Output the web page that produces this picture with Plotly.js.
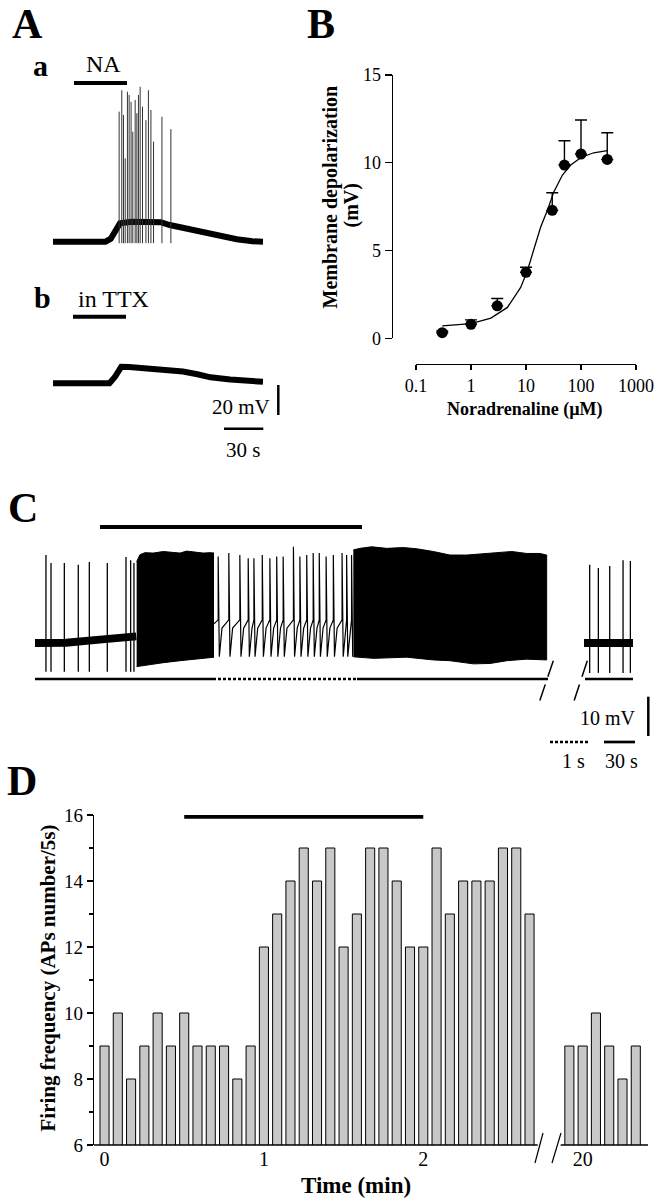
<!DOCTYPE html>
<html>
<head>
<meta charset="utf-8">
<script src="https://cdn.plot.ly/plotly-3.0.1.min.js"></script>
<style>
  html, body { margin: 0; padding: 0; background: #fff; }
  #plot { width: 658px; height: 1200px; }
</style>
</head>
<body>
<div id="plot"></div>
<script>
// ---- Panel A: NA-evoked depolarisation (time in s, potential in mV from rest)
const aTime = [0, 40, 44, 48, 51, 60, 72, 82, 89, 98, 112, 125, 140, 152, 160];
const aVoltNA = [0, 0, 2, 9, 12.3, 13.3, 13.5, 13, 11.1, 9.5, 6.2, 3.8, 1.6, 0.3, 0];
const aSpikeTimes = [50.4, 52.4, 53.7, 55, 56.7, 58, 59.5, 60.8, 62.6, 63.9, 65.1, 66.4, 68.2, 70.8, 72.7, 74.6, 76.6, 83, 89.8];
const aSpikePeaks = [86.7, 101, 84.5, 55.6, 100, 97.8, 93.3, 73.3, 94.5, 85.6, 97.8, 103.3, 90, 81, 101, 87.8, 66.7, 83.3, 75];
const aSpikeTrough = -1;
const bTime = [0, 43, 47, 52, 58, 70, 85, 99, 110, 120, 135, 150, 160];
const bVoltTTX = [0, 0, 4, 11, 10.8, 10, 9, 7.8, 6, 4, 2.5, 1.5, 1];

// ---- Panel B: concentration-response
const naConc = [0.3, 1, 3, 10, 30, 50, 100, 300];
const depolMean = [0.32, 0.8, 1.85, 3.76, 7.29, 9.87, 10.5, 10.19];
const depolSem = [0.1, 0.25, 0.42, 0.29, 1.0, 1.38, 1.94, 1.52];
const fitConc = [0.3, 1, 2.3, 4.6, 8, 10.6, 14, 18.5, 24.5, 32, 46, 65, 100, 170, 300];
const fitDepol = [0.71, 0.84, 1.15, 1.76, 2.9, 3.85, 5.1, 6.34, 7.29, 8.34, 9.3, 9.87, 10.3, 10.57, 10.69];

// ---- Panel C: firing record (slow segments in s, expanded window in s)
const cRestTime = [0, 30, 60, 80, 90, 98];
const cRestVolt = [0.5, 0.6, 1.3, 2, 2.1, 2.2];
const cSpikeTimes = [10.6, 15.5, 28.4, 41.9, 52.6, 70, 88.1, 92.6, 95.8];
const cSpikePeaks = [22.9, 20.9, 20.9, 20.4, 21.1, 20.9, 22.4, 21.6, 20.9];
const cSpikeTrough = -6.8;
const burst1Time = [98.4, 101.6, 106.5, 114.5, 124.2, 130.7, 140.4, 146.8, 156.5, 163, 169.4, 173.6];
const burst1Top = [21.2, 23, 23.5, 23.4, 23.8, 23.6, 23.4, 23.9, 23.6, 23.4, 23.5, 23.4];
const burst1LowTime = [98.4, 106.5, 124.2, 140.4, 156.5, 173.6];
const burst1Low = [-5.5, -5.1, -4.5, -4, -3.5, -3.1];
const fastSpikeTimes = [0.11, 0.39, 0.68, 0.90, 1.05, 1.27, 1.47, 1.65, 1.82, 2.09, 2.26, 2.44, 2.61, 2.77, 2.95, 3.14, 3.37, 3.49, 3.62];
const fastSpikePeaks = [22.5, 23.4, 22.9, 22.1, 22.1, 22.9, 22.1, 22.5, 22.5, 25, 22.5, 22.9, 23.4, 23.4, 22.5, 22.9, 23.4, 22.9, 22.9];
const fastAhp = -3;
const fastKnee = 4.3;
const fastThreshold = 6.4;
const burst2Time = [0.3, 6.8, 18.1, 32.6, 48.7, 61.7, 77.8, 93.9, 110, 126.1, 142.3, 153.6, 168.2, 181, 187.5];
const burst2Top = [24.2, 24.6, 25, 24.6, 24.8, 24.5, 23.8, 22.9, 22.9, 23.2, 23.5, 23.8, 23.3, 23.3, 22.9];
const burst2LowTime = [0.3, 19.7, 52, 77.8, 93.9, 116.6, 132.8, 149, 168.2, 187.5];
const burst2Low = [-3, -3.4, -3.1, -3.8, -4, -4.8, -4.7, -4, -3.6, -3.8];
const washTime = [0, 20, 47.4];
const washVolt = [0.5, 0.7, 0.5];
const washSpikeTimes = [5.5, 13.9, 24.9, 37.8, 44.9];
const washSpikePeaks = [20.4, 19.6, 20.1, 21.6, 21.4];
const washTrough = -7.1;

// ---- Panel D: firing frequency per 5 s bin
const binStartSec = [0, 5, 10, 15, 20, 25, 30, 35, 40, 45, 50, 55, 60, 65, 70, 75, 80, 85, 90, 95, 100,
  105, 110, 115, 120, 125, 130, 135, 140, 145, 150, 155, 160];
const apCounts = [9, 10, 8, 9, 10, 9, 10, 9, 9, 9, 8, 9, 12, 13, 14, 15, 14, 15, 12, 13, 15,
  15, 14, 12, 12, 15, 13, 14, 14, 14, 15, 15, 13];
const washBinSec = [1195, 1200, 1205, 1210, 1215, 1220];
const washCounts = [9, 9, 10, 9, 8, 9];
const naStartMin = 0.5;
const naEndMin = 2.0;
const timeTickLabels = ['0', '1', '2', '20'];

// ---------------------------------------------------------------------------
const W = 658, H = 1200;
const FONT = 'Liberation Serif, Times New Roman, serif';
const px = x => x / W;
const py = y => 1 - y / H;
const domX = (a, b) => [px(a), px(b)];
const domY = (top, bottom) => [py(bottom), py(top)];

// break in the time axis of D: 20 min is drawn at position 3
const BREAK_SHIFT = 17;
const axisMin = sec => {
  const m = sec / 60;
  return m > 10 ? m - BREAK_SHIFT : m;
};

function lineTrace(x, y, xa, ya, width, color) {
  return {
    x, y, xaxis: xa, yaxis: ya, type: 'scatter', mode: 'lines',
    line: { color: color || '#000', width }, hoverinfo: 'skip'
  };
}

// vertical spike strokes from trough to peak
function spikeTrace(times, peaks, trough, xa, ya, width, color) {
  const x = [], y = [];
  times.forEach((t, i) => {
    x.push(t, t, null);
    y.push(trough, peaks[i], null);
  });
  return lineTrace(x, y, xa, ya, width, color);
}

// solid black region of high-frequency firing
function burstTrace(topT, top, lowT, low, xa, ya) {
  return {
    x: topT.concat(lowT.slice().reverse()),
    y: top.concat(low.slice().reverse()),
    xaxis: xa, yaxis: ya, type: 'scatter', mode: 'lines',
    fill: 'toself', fillcolor: '#000',
    line: { color: '#000', width: 1 }, hoverinfo: 'skip'
  };
}

// expanded window: spike, AHP, then recovery ramp to threshold
function fastTrainTrace(xa, ya) {
  const x = [0], y = [fastThreshold - 1];
  fastSpikeTimes.forEach((t, i) => {
    x.push(t, t, t + 0.03);
    y.push(fastThreshold, fastSpikePeaks[i], fastAhp);
    const next = fastSpikeTimes[i + 1];
    if (next === undefined) return;
    if (next - t > 0.14) {
      x.push(t + 0.1);
      y.push(fastKnee);
    }
  });
  return lineTrace(x, y, xa, ya, 1.2);
}

function label(text, x, y, size, opts = {}) {
  return Object.assign({
    text, x: px(x), y: py(y), xref: 'paper', yref: 'paper',
    showarrow: false, xanchor: 'center', yanchor: 'middle',
    font: { family: FONT, size, color: '#000' }
  }, opts);
}

function paperLine(x0, y0, x1, y1, width, dash) {
  return {
    type: 'line', xref: 'paper', yref: 'paper',
    x0: px(x0), y0: py(y0), x1: px(x1), y1: py(y1),
    line: { color: '#000', width, dash: dash || 'solid' }
  };
}

const hidden = (domain, range) => ({
  domain, range, visible: false, fixedrange: true
});

// ---------------------------------------------------------------------------
const traces = [
  // A a / A b
  lineTrace(aTime, aVoltNA, 'x2', 'y2', 6),
  spikeTrace(aSpikeTimes, aSpikePeaks, aSpikeTrough, 'x2', 'y2', 1, '#333'),
  lineTrace(bTime, bVoltTTX, 'x3', 'y3', 6),

  // B
  lineTrace(fitConc, fitDepol, 'x', 'y', 1.3),
  {
    x: naConc, y: depolMean, type: 'scatter', mode: 'markers',
    marker: { color: '#000', size: 11 },
    error_y: {
      type: 'data', symmetric: false, array: depolSem,
      arrayminus: naConc.map(() => 0), color: '#000', thickness: 1.4, width: 6
    },
    cliponaxis: false, hoverinfo: 'skip'
  },

  // C
  lineTrace(cRestTime, cRestVolt, 'x5', 'y5', 8),
  spikeTrace(cSpikeTimes, cSpikePeaks, cSpikeTrough, 'x5', 'y5', 1.3),
  burstTrace(burst1Time, burst1Top, burst1LowTime, burst1Low, 'x5', 'y5'),
  fastTrainTrace('x6', 'y5'),
  burstTrace(burst2Time, burst2Top, burst2LowTime, burst2Low, 'x7', 'y5'),
  lineTrace(washTime, washVolt, 'x8', 'y5', 8),
  spikeTrace(washSpikeTimes, washSpikePeaks, washTrough, 'x8', 'y5', 1.3),

  // D
  {
    x: binStartSec.map(axisMin).concat(washBinSec.map(axisMin)),
    y: apCounts.concat(washCounts),
    type: 'bar', xaxis: 'x4', yaxis: 'y4', width: 0.057,
    marker: { color: '#c8c8c8', line: { color: '#000', width: 1 } },
    hoverinfo: 'skip'
  },
  lineTrace([naStartMin, naEndMin], [15.95, 15.95], 'x4', 'y4', 4)
];

const axisStyle = {
  showline: true, linecolor: '#000', linewidth: 1.3,
  showgrid: false, zeroline: false, fixedrange: true,
  ticks: 'outside', tickcolor: '#000', tickwidth: 1.3,
  tickfont: { family: FONT, size: 18, color: '#000' }
};

const layout = {
  width: W, height: H,
  margin: { l: 0, r: 0, t: 0, b: 0 },
  paper_bgcolor: '#fff', plot_bgcolor: 'rgba(0,0,0,0)',
  showlegend: false,
  bargap: 0,

  // B
  xaxis: Object.assign({}, axisStyle, {
    type: 'log', domain: domX(416, 636), range: [-1, 3],
    anchor: 'free', position: py(364), ticklen: 5,
    tickvals: [0.1, 1, 10, 100, 1000], ticktext: ['0.1', '1', '10', '100', '1000']
  }),
  yaxis: Object.assign({}, axisStyle, {
    domain: domY(75, 338.3), range: [0, 15],
    anchor: 'free', position: px(391.7), ticklen: 7,
    tickvals: [0, 5, 10, 15]
  }),

  // A
  xaxis2: Object.assign(hidden(domX(53, 263), [0, 160]), { anchor: 'y2' }),
  yaxis2: Object.assign(hidden(domY(80, 250), [-5.53, 107.8]), { anchor: 'x2' }),
  xaxis3: Object.assign(hidden(domX(53, 263), [0, 160]), { anchor: 'y3' }),
  yaxis3: Object.assign(hidden(domY(330, 400), [-11.13, 35.53]), { anchor: 'x3' }),

  // D
  xaxis4: Object.assign({}, axisStyle, {
    domain: domX(94, 648), range: [-0.066, 3.41], anchor: 'y4',
    showline: false, ticks: '',
    tickvals: [0, 1, 2, 3], ticktext: timeTickLabels,
    tickfont: { family: FONT, size: 20, color: '#000' }
  }),
  yaxis4: Object.assign({}, axisStyle, {
    domain: domY(815, 1145), range: [6, 16], anchor: 'x4',
    ticklen: 6, tickvals: [6, 8, 10, 12, 14, 16],
    minor: { tickvals: [7, 9, 11, 13, 15], ticks: 'outside', ticklen: 4, tickcolor: '#000', tickwidth: 1.2 },
    tickfont: { family: FONT, size: 19, color: '#000' }
  }),

  // C
  xaxis5: Object.assign(hidden(domX(35, 214), [0, 173.3]), { anchor: 'y5' }),
  xaxis6: Object.assign(hidden(domX(214, 353), [0, 3.658]), { anchor: 'y5' }),
  xaxis7: Object.assign(hidden(domX(353, 548), [0, 188.8]), { anchor: 'y5' }),
  xaxis8: Object.assign(hidden(domX(584, 634), [0, 48.4]), { anchor: 'y5' }),
  yaxis5: Object.assign(hidden(domY(535, 700), [-14, 28]), { anchor: 'x5' }),

  shapes: [
    // A: application bars and scale bars
    paperLine(74, 83, 127, 83, 4),
    paperLine(73, 316.7, 126, 316.7, 4),
    paperLine(278.3, 385, 278.3, 415, 2.5),
    paperLine(224, 428.7, 263.3, 428.7, 2.5),
    // C: application bar, time-base underlines, breaks, scale bars
    paperLine(100, 527, 362, 527, 4),
    paperLine(35, 679, 213, 679, 2.7),
    paperLine(213, 679, 357, 679, 2.7, '3px,2px'),
    paperLine(357, 679, 548, 679, 2.7),
    paperLine(585, 679, 633, 679, 2.7),
    paperLine(553.3, 660.7, 538.3, 705, 1.5, '17px,8px'),
    paperLine(587.3, 660.7, 572.7, 705, 1.5, '17px,8px'),
    paperLine(648.3, 696.7, 648.3, 736, 2.5),
    paperLine(550, 742, 588, 742, 2.7, '3px,2px'),
    paperLine(604, 742, 635, 742, 2.7),
    // D: broken time axis
    paperLine(94, 1145, 537.7, 1145, 1.3),
    paperLine(560.7, 1145, 648, 1145, 1.3),
    paperLine(535, 1163, 543, 1133, 1.2),
    paperLine(552, 1163, 561, 1133, 1.2)
  ],

  annotations: [
    label('<b>A</b>', 27, 24, 42),
    label('<b>B</b>', 321, 24, 42),
    label('<b>C</b>', 23, 508, 42),
    label('<b>D</b>', 22, 781, 42),
    label('<b>a</b>', 40.5, 65, 30),
    label('NA', 103.5, 64, 24),
    label('<b>b</b>', 42.5, 297, 30),
    label('in TTX', 113.5, 299, 24),
    label('20 mV', 271.7, 406.7, 21, { xanchor: 'right' }),
    label('30 s', 243.3, 450, 21),
    label('<b>Membrane depolarization</b>', 329.5, 197, 20, { textangle: -90 }),
    label('<b>(mV)</b>', 351.5, 206, 20, { textangle: -90 }),
    label('<b>Noradrenaline (µM)</b>', 525, 409, 18),
    label('10 mV', 638, 718, 20, { xanchor: 'right' }),
    label('1 s', 573, 761, 20),
    label('30 s', 621, 761, 20),
    label('<b>Firing frequency (APs number/5s)</b>', 47.5, 978, 21, { textangle: -90 }),
    label('<b>Time (min)</b>', 356, 1185, 23)
  ]
};

Plotly.newPlot('plot', traces, layout, { staticPlot: true, displayModeBar: false });
</script>
</body>
</html>
